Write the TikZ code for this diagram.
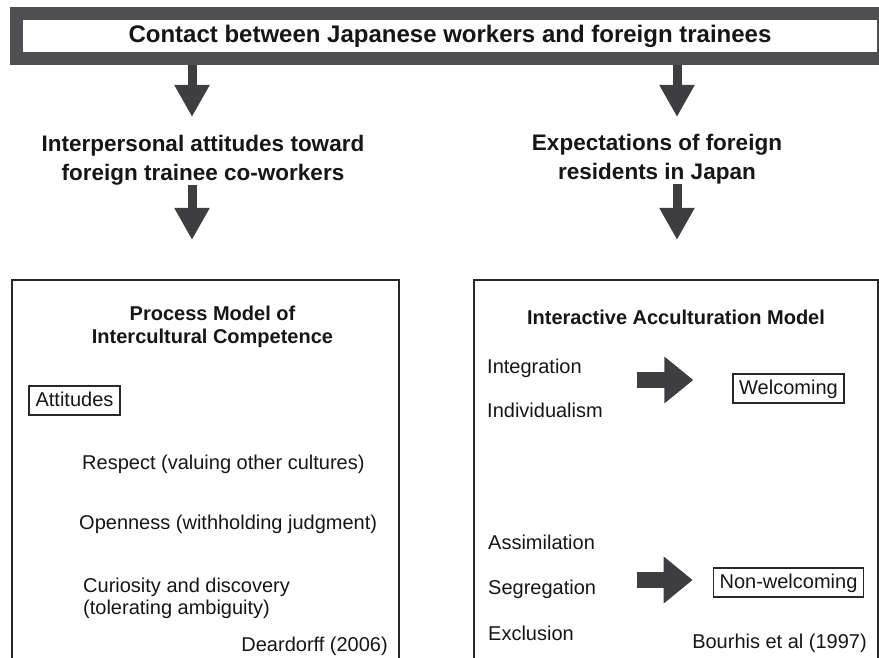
\documentclass[tikz,border=0pt]{standalone}
\usepackage{fontspec}
\setmainfont{Liberation Sans}
\usetikzlibrary{arrows.meta}
\begin{document}
\begin{tikzpicture}[x=1pt, y=-1pt]
            \definecolor{bar_color}{RGB}{80,80,82}
            \definecolor{arrow_color}{RGB}{62,62,64}
            \definecolor{box_color}{RGB}{40,40,40}
            \definecolor{text_color}{RGB}{22,22,22}
            \tikzstyle{every node} = [text=text_color, inner sep=0pt]
            \tikzstyle{heading} = [font=\fontsize{22.5}{29}\selectfont\bfseries, align=center]
            \tikzstyle{title} = [font=\fontsize{20}{23}\selectfont\bfseries, align=center]
            \tikzstyle{ann} = [font=\fontsize{20}{22}\selectfont, anchor=base west, align=left]
            \tikzstyle{panel} = [draw=box_color, line width=1.6pt, outer sep=0pt, anchor=north west]
            \tikzstyle{tag} = [draw=box_color, line width=1.8pt, font=\fontsize{20}{22}\selectfont, inner xsep=6pt, inner ysep=5pt, text height=15pt, text depth=4pt]
            \tikzstyle{down} = [line width=9pt, arrow_color, -{Triangle[width=33pt, length=32pt]}]
            \tikzstyle{push} = [line width=16pt, arrow_color, -{Triangle[width=45pt, length=29pt]}]
            \useasboundingbox (0,0) rectangle (879,658);
            \clip (0,0) rectangle (879,658);
            % top bar
            \node[draw=bar_color, fill=white, line width=13pt, minimum width=867pt, minimum height=45pt, font=\fontsize{24}{28}\selectfont\bfseries] (contact) at (450,36) {Contact between Japanese workers and foreign trainees};
            % the two headings
            \node[heading] (interp) at (203,160) {Interpersonal attitudes toward\\foreign trainee co-workers};
            \node[heading] (expect) at (657,159) {Expectations of foreign\\residents in Japan};
            \coordinate (tip_l1) at (192,117);
            \coordinate (tip_r1) at (677,117);
            \coordinate (tip_l2) at (192,240);
            \coordinate (tip_r2) at (677,240);
            \draw[down] (contact.south -| tip_l1) -- (tip_l1);
            \draw[down] (contact.south -| tip_r1) -- (tip_r1);
            \draw[down] (interp.south -| tip_l2) -- (tip_l2);
            \draw[down] (expect.south -| tip_r2) -- (tip_r2);
            % left panel
            \node[panel, minimum width=387pt, minimum height=440pt] (process_box) at (12,280) {};
            \node[title] (process) at (212.5,327) {Process Model of\\Intercultural Competence};
            \node[tag, inner xsep=6.5pt] (attitudes) at (74.5,400.5) {Attitudes};
            \node[ann] (respect) at (82,469) {Respect (valuing other cultures)};
            \node[ann] (openness) at (79,529) {Openness (withholding judgment)};
            \node[ann] (curiosity) at (83,614) {Curiosity and discovery\\(tolerating ambiguity)};
            \node[ann, anchor=base east] (deardorff) at (388,651) {Deardorff (2006)};
            % right panel
            \node[panel, minimum width=404pt, minimum height=440pt] (iam_box) at (474,280) {};
            \node[title] (iam) at (676,317) {Interactive Acculturation Model};
            \node[ann] (integ) at (487,373) {Integration};
            \node[ann] (indiv) at (487,417) {Individualism};
            \node[ann] (assim) at (488,549) {Assimilation};
            \node[ann] (segreg) at (488,594) {Segregation};
            \node[ann] (exclus) at (488,640) {Exclusion};
            \node[tag] (welcome) at (788.5,388.5) {Welcoming};
            \node[tag] (nonwelcome) at (788.5,582.5) {Non-welcoming};
            \node[ann, anchor=base east] (bourhis) at (867,648) {Bourhis et al (1997)};
            \coordinate (w_from) at (637,380);
            \coordinate (n_from) at (637,580);
            \draw[push] (w_from) -- (w_from -| welcome.west) [shorten >=39pt];
            \draw[push] (n_from) -- (n_from -| nonwelcome.west) [shorten >=20pt];
\end{tikzpicture}
\end{document}
